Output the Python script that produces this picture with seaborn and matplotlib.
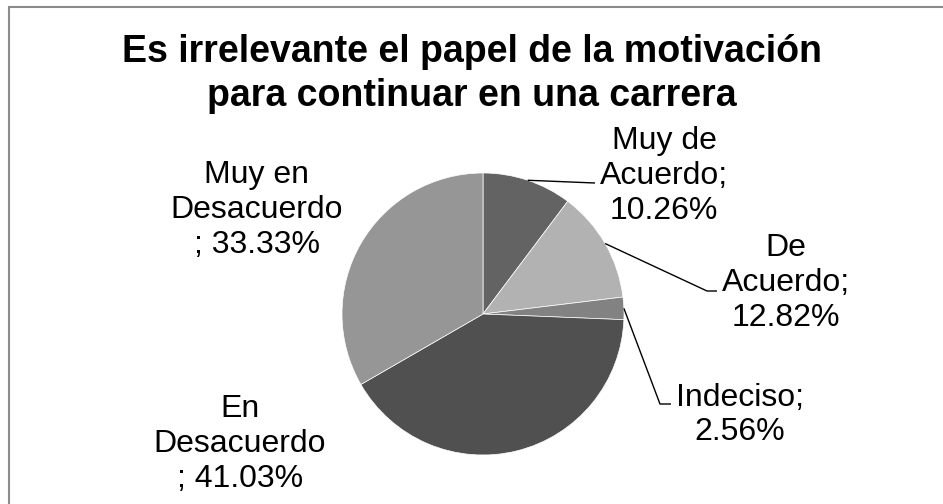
"""
Pie chart: Es irrelevante el papel de la motivacion para continuar en una carrera.
"""

import numpy as np
import matplotlib as mpl
import matplotlib.pyplot as plt
from matplotlib.patches import Rectangle
import seaborn as sns

# Data
categories = ['Muy de Acuerdo', 'De Acuerdo', 'Indeciso', 'En Desacuerdo', 'Muy en Desacuerdo']
values = [10.26, 12.82, 2.56, 41.03, 33.33]
label_texts = ['Muy de\nAcuerdo;\n10.26%',
               'De\nAcuerdo;\n12.82%',
               'Indeciso;\n2.56%',
               'En\nDesacuerdo\n; 41.03%',
               'Muy en\nDesacuerdo\n; 33.33%']
title = 'Es irrelevante el papel de la motivación\npara continuar en una carrera'

# Theme
sns.set_theme(style='white')
plt.rcParams['font.family'] = ['Liberation Sans', 'DejaVu Sans']

colors = ['#636363', '#b2b2b2', '#828282', '#505050', '#969696']

W, H = 943, 504
fig = plt.figure(figsize=(W / 100, H / 100), dpi=100)
ax = fig.add_axes([0, 0, 1, 1])

# Pie, working in pixel units (y up)
cx, cy, r = 483, H - 314, 141
wedges, _ = ax.pie(values, colors=colors, startangle=90, counterclock=False,
                   center=(cx, cy), radius=r,
                   wedgeprops=dict(edgecolor='white', linewidth=0.5))
ax.set_xlim(0, W)
ax.set_ylim(0, H)
ax.set_aspect('auto')
ax.axis('off')

# Labels: (x centre, y centre in px from top)
label_pos = [(664, 176), (786, 283), (740, 415), (240, 444), (257, 210)]
for txt, (lx, ly) in zip(label_texts, label_pos):
    ax.text(lx, H - ly, txt, ha='center', va='center', fontsize=23,
            color='black', linespacing=1.2)

# Leader lines from wedge edge (mid angle) to label
elbows = {0: [(595, 183)],
          1: [(707, 291), (717, 291)],
          2: [(660, 404), (671, 404)]}
for i, pts in elbows.items():
    w = wedges[i]
    mid = np.deg2rad((w.theta1 + w.theta2) / 2)
    sx = w.center[0] + w.r * np.cos(mid)
    sy = w.center[1] + w.r * np.sin(mid)
    xs = [sx] + [p[0] for p in pts]
    ys = [sy] + [H - p[1] for p in pts]
    ax.plot(xs, ys, color='black', linewidth=1.0, solid_capstyle='butt')

# Title
ax.text(W / 2, H - 74, title, ha='center', va='center', fontsize=27,
        fontweight='bold', color='black', linespacing=1.32)

# Chart border (cut off at right and bottom)
ax.add_patch(Rectangle((9, -20), W + 20, H - 7 + 20, fill=False,
                       edgecolor='#8c8c8c', linewidth=1.5, clip_on=False))

fig.savefig('out.png', dpi=100)
